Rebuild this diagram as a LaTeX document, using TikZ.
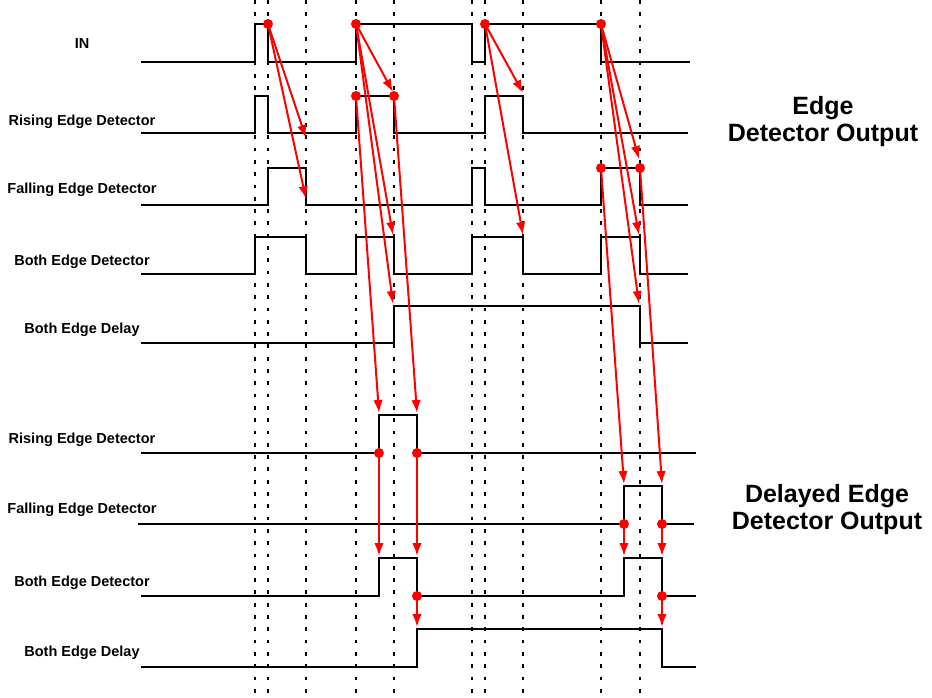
\documentclass[tikz,border=0pt]{standalone}
\usepackage{fontspec}
\setmainfont{Liberation Sans}
\usetikzlibrary{arrows.meta}

\begin{document}
\begin{tikzpicture}[x=1pt, y=-1pt,
	wave/.style={line width=2.4pt},
	dotline/.style={line width=2.3pt, dash pattern=on 3.8pt off 8.5pt},
	edgearrow/.style={draw=red, line width=2pt, -{Latex[length=13pt, width=9.5pt]}},
	lbl/.style={font=\fontsize{14.5}{17}\selectfont\bfseries, anchor=base},
	ttl/.style={font=\fontsize{25}{27}\selectfont\bfseries, align=center}]
	\useasboundingbox (0,0) rectangle (932,697);
	\foreach \x in {255,268,306,356,394,472,485,523,601,640} {
		\draw[dotline] (\x,0) -- (\x,697);
	}
	
	\node[lbl] (inLbl) at (82,48) {IN};
	\node[lbl] (reLbl) at (82,125) {Rising Edge Detector};
	\node[lbl] (feLbl) at (82,193) {Falling Edge Detector};
	\node[lbl] (beLbl) at (82,265) {Both Edge Detector};
	\node[lbl] (bdLbl) at (82,333) {Both Edge Delay};
	\node[lbl] (drLbl) at (82,443) {Rising Edge Detector};
	\node[lbl] (dfLbl) at (82,513) {Falling Edge Detector};
	\node[lbl] (dbLbl) at (82,586) {Both Edge Detector};
	\node[lbl] (ddLbl) at (82,656) {Both Edge Delay};
	\node[ttl] (topTtl) at (823,122) {Edge\\Detector Output};
	\node[ttl] (lowTtl) at (827,510) {Delayed Edge\\Detector Output};
	
	\draw[wave] (141,62) -| (255,24) -| (268,62) -| (356,24) -| (472,62) -| (485,24) -| (601,62) -- (690,62);
	\draw[wave] (141,133) -| (255,96) -| (268,133) -| (356,96) -| (394,133) -| (485,96) -| (523,133) -- (688,133);
	\draw[wave] (141,205) -| (268,168) -| (306,205) -| (472,168) -| (485,205) -| (601,168) -| (640,205) -- (688,205);
	\draw[wave] (141,274) -| (255,237) -| (306,274) -| (356,237) -| (394,274) -| (472,237) -| (523,274) -| (601,237) -| (640,274) -- (688,274);
	\draw[wave] (141,343) -| (394,306) -| (640,343) -- (688,343);
	\draw[wave] (141,453) -| (379,415) -| (417,453) -- (696,453);
	\draw[wave] (138,524) -| (624,486) -| (662,524) -- (694,524);
	\draw[wave] (141,596) -| (379,558) -| (417,596) -| (624,558) -| (662,596) -- (696,596);
	\draw[wave] (141,667) -| (417,629) -| (662,667) -- (696,667);
	
	\coordinate (inA) at (268,24);
	\coordinate (inB) at (356,24);
	\coordinate (inC) at (485,24);
	\coordinate (inD) at (601,24);
	\coordinate (reA) at (356,96);
	\coordinate (reB) at (394,96);
	\coordinate (feA) at (601,168);
	\coordinate (feB) at (640,168);
	\coordinate (drA) at (379,453);
	\coordinate (drB) at (417,453);
	\coordinate (dfA) at (624,524);
	\coordinate (dfB) at (662,524);
	\coordinate (dbA) at (417,596);
	\coordinate (dbB) at (662,596);
	
	\coordinate (reLoA) at (306,138);
	\coordinate (feLoA) at (306,199);
	\coordinate (reHiB) at (393,92);
	\coordinate (beHiB) at (393,235);
	\coordinate (bdHiB) at (393,304);
	\coordinate (reHiC) at (523,93);
	\coordinate (beHiC) at (523,235);
	\coordinate (feHiD) at (639,159);
	\coordinate (beHiD) at (639,235);
	\coordinate (bdHiD) at (639,304);
	\coordinate (drHiA) at (379,413);
	\coordinate (drHiB) at (417,413);
	\coordinate (dfHiA) at (624,484);
	\coordinate (dfHiB) at (662,484);
	\coordinate (dbHiA) at (379,556);
	\coordinate (dbHiB) at (417,556);
	\coordinate (dbHiC) at (624,556);
	\coordinate (dbHiD) at (662,556);
	\coordinate (ddHiA) at (417,627);
	\coordinate (ddHiB) at (662,627);
	
	\draw[edgearrow] (inA) -- (reLoA);
	\draw[edgearrow] (inA) -- (feLoA);
	\draw[edgearrow] (inB) -- (reHiB);
	\draw[edgearrow] (inB) -- (beHiB);
	\draw[edgearrow] (inB) -- (bdHiB);
	\draw[edgearrow] (inC) -- (reHiC);
	\draw[edgearrow] (inC) -- (beHiC);
	\draw[edgearrow] (inD) -- (feHiD);
	\draw[edgearrow] (inD) -- (beHiD);
	\draw[edgearrow] (inD) -- (bdHiD);
	\draw[edgearrow] (reA) -- (drHiA);
	\draw[edgearrow] (reB) -- (drHiB);
	\draw[edgearrow] (feA) -- (dfHiA);
	\draw[edgearrow] (feB) -- (dfHiB);
	\draw[edgearrow] (drA) -- (dbHiA);
	\draw[edgearrow] (drB) -- (dbHiB);
	\draw[edgearrow] (dfA) -- (dbHiC);
	\draw[edgearrow] (dfB) -- (dbHiD);
	\draw[edgearrow] (dbA) -- (ddHiA);
	\draw[edgearrow] (dbB) -- (ddHiB);
	
	\foreach \p in {inA,inB,inC,inD,reA,reB,feA,feB,drA,drB,dfA,dfB,dbA,dbB} {
		\fill[red] (\p) circle (5pt);
	}
\end{tikzpicture}
\end{document}
